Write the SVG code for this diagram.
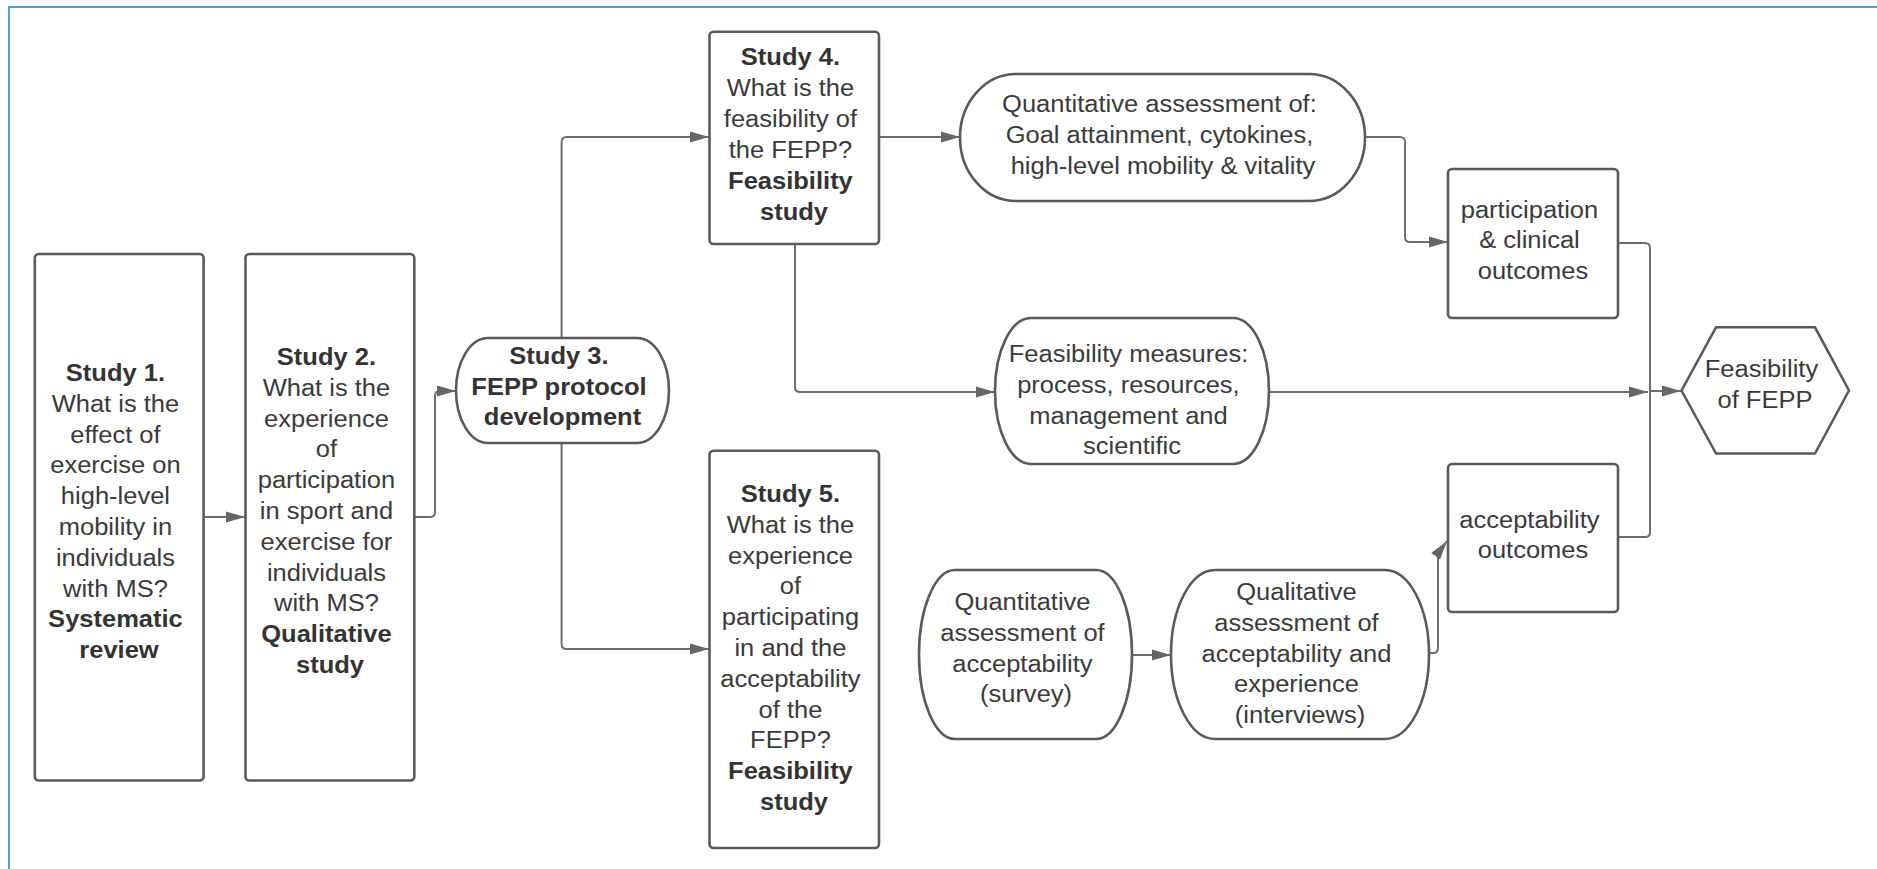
<svg xmlns="http://www.w3.org/2000/svg" width="1877" height="869" viewBox="0 0 1877 869">
  <style>
    .frame { fill: none; stroke: #5b9bd5; stroke-width: 2; }
    .shape { fill: #ffffff; stroke: #5a5a5a; stroke-width: 2.6; stroke-linejoin: round; }
    .link { fill: none; stroke: #6e6e6e; stroke-width: 2; }
    .lbl { font-family: "Liberation Sans", Arial, sans-serif; font-size: 23.3px; fill: #3a3a3a; text-anchor: middle; }
    .b { font-weight: bold; fill: #333333; }
  </style>
  <defs>
    <marker id="arrow" markerUnits="userSpaceOnUse" markerWidth="20" markerHeight="12" refX="19" refY="6" orient="auto">
      <path d="M0,0.5 L19,6 L0,11.5 z" fill="#666666"/>
    </marker>
  </defs>

  <rect width="1877" height="869" fill="#ffffff"/>
  <path class="frame" d="M1877,7 H9 V869"/>

  <!-- connectors -->
  <g id="connectors">
    <path class="link" marker-end="url(#arrow)" d="M203.6,517 H245"/>
    <path class="link" marker-end="url(#arrow)" d="M414.3,517 H430 Q435,517 435,512 V396 Q435,391 440,391 H456"/>
    <path class="link" marker-end="url(#arrow)" d="M561.6,338 V142 Q561.6,137 566.6,137 H709"/>
    <path class="link" marker-end="url(#arrow)" d="M561.6,443 V644 Q561.6,649 566.6,649 H709"/>
    <path class="link" marker-end="url(#arrow)" d="M879,137 H960"/>
    <path class="link" marker-end="url(#arrow)" d="M795,244 V387 Q795,392 800,392 H995"/>
    <path class="link" marker-end="url(#arrow)" d="M1365,137 H1400 Q1405,137 1405,142 V237 Q1405,242 1410,242 H1448"/>
    <path class="link" d="M1618,243 H1645 Q1650,243 1650,248 V532 Q1650,537 1645,537 H1618"/>
    <path class="link" marker-end="url(#arrow)" d="M1269,392 H1648"/>
    <path class="link" marker-end="url(#arrow)" d="M1650,391 H1681"/>
    <path class="link" marker-end="url(#arrow)" d="M1132,655 H1171"/>
    <path class="link" marker-end="url(#arrow)" d="M1429,653 H1433 Q1438,653 1438,648 V553 L1447,541"/>
  </g>

  <!-- Study 1 -->
  <g id="study1">
    <rect class="shape" x="34.8" y="254" width="168.8" height="526.5" rx="4"/>
    <text class="lbl" transform="translate(119 0) scale(1.095 1)">
      <tspan class="b" x="0" y="381">Study 1.</tspan>
      <tspan x="0" y="411.8">What is the</tspan>
      <tspan x="0" y="442.6">effect of</tspan>
      <tspan x="0" y="473.4">exercise on</tspan>
      <tspan x="0" y="504.2">high-level</tspan>
      <tspan x="0" y="535">mobility in</tspan>
      <tspan x="0" y="565.8">individuals</tspan>
      <tspan x="0" y="596.6">with MS?</tspan>
      <tspan class="b" x="0" y="627.4">Systematic</tspan>
      <tspan class="b" x="0" y="658.2">review</tspan>
    </text>
  </g>

  <!-- Study 2 -->
  <g id="study2">
    <rect class="shape" x="245.5" y="254" width="168.8" height="526.5" rx="4"/>
    <text class="lbl" transform="translate(330 0) scale(1.095 1)">
      <tspan class="b" x="0" y="365">Study 2.</tspan>
      <tspan x="0" y="395.8">What is the</tspan>
      <tspan x="0" y="426.6">experience</tspan>
      <tspan x="0" y="457.4">of</tspan>
      <tspan x="0" y="488.2">participation</tspan>
      <tspan x="0" y="519">in sport and</tspan>
      <tspan x="0" y="549.8">exercise for</tspan>
      <tspan x="0" y="580.6">individuals</tspan>
      <tspan x="0" y="611.4">with MS?</tspan>
      <tspan class="b" x="0" y="642.2">Qualitative</tspan>
      <tspan class="b" x="0" y="673">study</tspan>
    </text>
  </g>

  <!-- Study 3 -->
  <g id="study3">
    <rect class="shape" x="456" y="338" width="213" height="105" rx="32" ry="52.5"/>
    <text class="lbl b" transform="translate(562.5 0) scale(1.095 1)">
      <tspan x="0" y="364">Study 3.</tspan>
      <tspan x="0" y="395">FEPP protocol</tspan>
      <tspan x="0" y="425.5">development</tspan>
    </text>
  </g>

  <!-- Study 4 -->
  <g id="study4">
    <rect class="shape" x="709.5" y="31.7" width="169.5" height="212.3" rx="4"/>
    <text class="lbl" transform="translate(794 0) scale(1.095 1)">
      <tspan class="b" x="0" y="65">Study 4.</tspan>
      <tspan x="0" y="96">What is the</tspan>
      <tspan x="0" y="127">feasibility of</tspan>
      <tspan x="0" y="158">the FEPP?</tspan>
      <tspan class="b" x="0" y="189">Feasibility</tspan>
      <tspan class="b" x="0" y="220">study</tspan>
    </text>
  </g>

  <!-- Study 5 -->
  <g id="study5">
    <rect class="shape" x="709.5" y="450.7" width="169.5" height="397.3" rx="4"/>
    <text class="lbl" transform="translate(794 0) scale(1.095 1)">
      <tspan class="b" x="0" y="502">Study 5.</tspan>
      <tspan x="0" y="532.8">What is the</tspan>
      <tspan x="0" y="563.6">experience</tspan>
      <tspan x="0" y="594.4">of</tspan>
      <tspan x="0" y="625.2">participating</tspan>
      <tspan x="0" y="656">in and the</tspan>
      <tspan x="0" y="686.8">acceptability</tspan>
      <tspan x="0" y="717.6">of the</tspan>
      <tspan x="0" y="748.4">FEPP?</tspan>
      <tspan class="b" x="0" y="779.2">Feasibility</tspan>
      <tspan class="b" x="0" y="810">study</tspan>
    </text>
  </g>

  <!-- Quantitative assessment (Study 4) -->
  <g id="quant-outcomes">
    <rect class="shape" x="960" y="74" width="405" height="127" rx="56" ry="63.5"/>
    <text class="lbl" transform="translate(1163 0) scale(1.095 1)">
      <tspan x="0" y="112.5">Quantitative assessment of:</tspan>
      <tspan x="0" y="143.3">Goal attainment, cytokines,</tspan>
      <tspan x="0" y="174">high-level mobility &amp; vitality</tspan>
    </text>
  </g>

  <!-- Feasibility measures -->
  <g id="feasibility-measures">
    <rect class="shape" x="995" y="318" width="274" height="146" rx="36" ry="73"/>
    <text class="lbl" transform="translate(1132 0) scale(1.095 1)">
      <tspan x="0" y="362">Feasibility measures:</tspan>
      <tspan x="0" y="392.8">process, resources,</tspan>
      <tspan x="0" y="423.6">management and</tspan>
      <tspan x="0" y="454.4">scientific</tspan>
    </text>
  </g>

  <!-- Quantitative acceptability -->
  <g id="quant-acceptability">
    <rect class="shape" x="919" y="570" width="213" height="169" rx="36" ry="84.5"/>
    <text class="lbl" transform="translate(1026 0) scale(1.095 1)">
      <tspan x="0" y="610">Quantitative</tspan>
      <tspan x="0" y="640.8">assessment of</tspan>
      <tspan x="0" y="671.6">acceptability</tspan>
      <tspan x="0" y="702.4">(survey)</tspan>
    </text>
  </g>

  <!-- Qualitative acceptability -->
  <g id="qual-acceptability">
    <rect class="shape" x="1171" y="570" width="258" height="169" rx="44" ry="84.5"/>
    <text class="lbl" transform="translate(1300 0) scale(1.095 1)">
      <tspan x="0" y="600">Qualitative</tspan>
      <tspan x="0" y="630.8">assessment of</tspan>
      <tspan x="0" y="661.6">acceptability and</tspan>
      <tspan x="0" y="692.4">experience</tspan>
      <tspan x="0" y="723.2">(interviews)</tspan>
    </text>
  </g>

  <!-- Participation & clinical outcomes -->
  <g id="participation-outcomes">
    <rect class="shape" x="1448" y="169" width="170" height="149" rx="4"/>
    <text class="lbl" transform="translate(1533 0) scale(1.095 1)">
      <tspan x="0" y="218">participation</tspan>
      <tspan x="0" y="248.5">&amp; clinical</tspan>
      <tspan x="0" y="279">outcomes</tspan>
    </text>
  </g>

  <!-- Acceptability outcomes -->
  <g id="acceptability-outcomes">
    <rect class="shape" x="1448" y="464" width="170" height="148" rx="4"/>
    <text class="lbl" transform="translate(1533 0) scale(1.095 1)">
      <tspan x="0" y="528">acceptability</tspan>
      <tspan x="0" y="558.5">outcomes</tspan>
    </text>
  </g>

  <!-- Feasibility of FEPP -->
  <g id="feasibility-fepp">
    <path class="shape" d="M1681.5,390.5 L1716,327.3 H1815 L1849,390.5 L1815,453.5 H1716 Z"/>
    <text class="lbl" transform="translate(1765 0) scale(1.095 1)">
      <tspan x="0" y="377">Feasibility</tspan>
      <tspan x="0" y="408">of FEPP</tspan>
    </text>
  </g>
</svg>
